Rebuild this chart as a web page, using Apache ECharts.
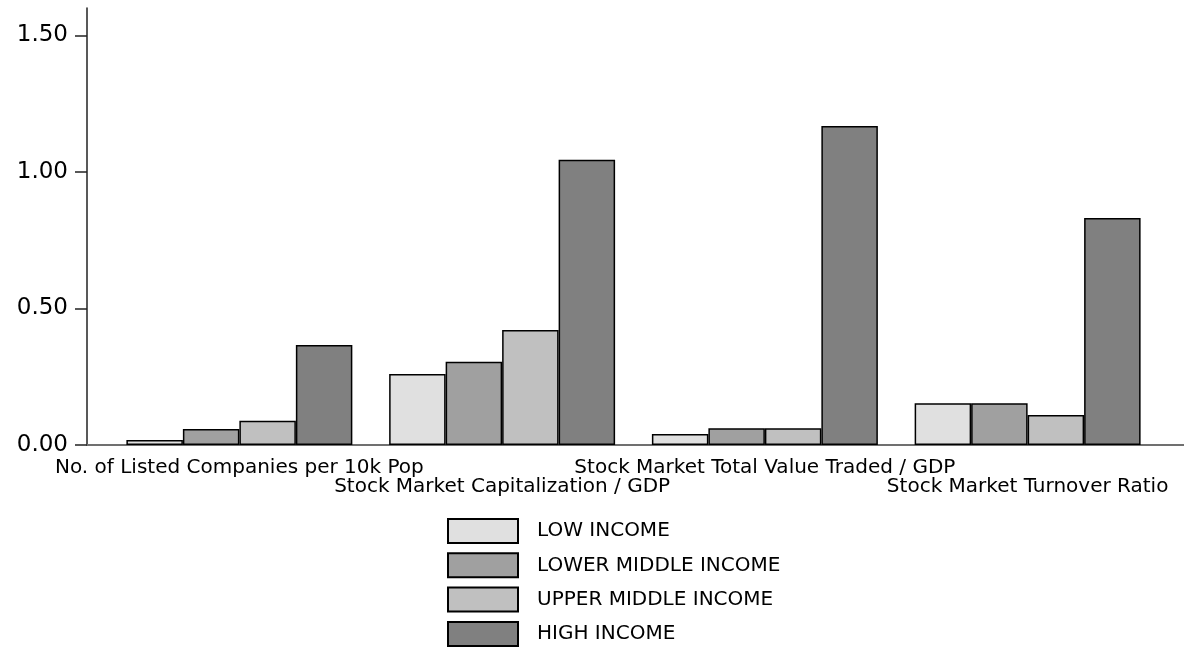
<!DOCTYPE html>
<html>
<head>
<meta charset="utf-8">
<script src="https://cdn.jsdelivr.net/npm/echarts@6/dist/echarts.min.js"></script>
<style>
html,body{margin:0;padding:0;background:#fff;}
#chart{width:1184px;height:647px;}
</style>
</head>
<body>
<div id="chart"></div>
<script>
const categories = [
  'No. of Listed Companies per 10k Pop',
  'Stock Market Capitalization / GDP',
  'Stock Market Total Value Traded / GDP',
  'Stock Market Turnover Ratio'
];
const seriesNames = ['LOW INCOME', 'LOWER MIDDLE INCOME', 'UPPER MIDDLE INCOME', 'HIGH INCOME'];
const lowIncome = [0.018, 0.260, 0.040, 0.153];
const lowerMiddleIncome = [0.059, 0.305, 0.061, 0.153];
const upperMiddleIncome = [0.089, 0.421, 0.061, 0.110];
const highIncome = [0.366, 1.044, 1.168, 0.831];
const yTicks = [0, 0.5, 1.0, 1.5];
const colors = ['#e0e0e0', '#a0a0a0', '#c0c0c0', '#808080'];

const values = [lowIncome, lowerMiddleIncome, upperMiddleIncome, highIncome];
const FONT = '"DejaVu Sans", "Liberation Sans", Arial, sans-serif';

const chart = echarts.init(document.getElementById('chart'), null, {renderer: 'canvas'});
const option = {
  animation: false,
  backgroundColor: '#ffffff',
  textStyle: {fontFamily: FONT},
  grid: [
    {left: 87, right: 0, top: 8, bottom: 202},
    {left: 108, right: 25, top: 8, bottom: 202}
  ],
  xAxis: [
    {
      gridIndex: 0, type: 'value', min: 0, max: 1,
      axisLine: {show: true, lineStyle: {color: '#707070', width: 2}},
      axisTick: {show: false}, axisLabel: {show: false}, splitLine: {show: false}
    },
    {
      gridIndex: 1, type: 'category', data: categories,
      axisLine: {show: false}, axisTick: {show: false}, splitLine: {show: false},
      axisLabel: {
        interval: 0, margin: 13, color: '#000', fontSize: 20, lineHeight: 19.5,
        fontFamily: FONT,
        formatter: function (v, i) { return i % 2 === 1 ? '\n' + v : v; }
      }
    }
  ],
  yAxis: [
    {
      gridIndex: 0, type: 'value', min: 0, max: 1.6,
      axisLine: {show: true, lineStyle: {color: '#222', width: 1.5}},
      axisTick: {show: true, length: 12, lineStyle: {color: '#222', width: 1.5}, customValues: yTicks},
      axisLabel: {
        color: '#000', fontSize: 23, margin: 19, fontFamily: FONT,
        customValues: yTicks,
        formatter: function (v) { return v.toFixed(2); }
      },
      splitLine: {show: false}
    },
    {
      gridIndex: 1, type: 'value', min: 0, max: 1.6, show: false
    }
  ],
  legend: {
    orient: 'vertical', left: 447, top: 518, height: 129, padding: 0,
    itemWidth: 70, itemHeight: 24, itemGap: 8.3,
    icon: 'rect',
    data: seriesNames,
    textStyle: {color: '#000', fontSize: 20, lineHeight: 20, fontFamily: FONT, padding: [0, 0, 0, 14]}
  },
  series: seriesNames.map(function (name, i) {
    return {
      name: name, type: 'bar', xAxisIndex: 1, yAxisIndex: 1,
      data: values[i],
      barGap: '0%', barCategoryGap: '14%',
      itemStyle: {color: colors[i], borderColor: '#000', borderWidth: 1.5}
    };
  })
};
chart.setOption(option);
</script>
</body>
</html>
